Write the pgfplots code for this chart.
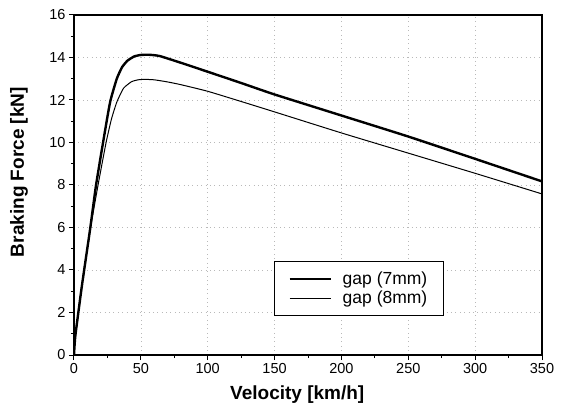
\documentclass[border=0pt]{standalone}
\usepackage{fontspec}
\setmainfont{Liberation Sans}
\usepackage{pgfplots}
\pgfplotsset{compat=1.18}

\begin{document}
\begin{tikzpicture}
\useasboundingbox (-74bp,-64bp) rectangle (489bp,355bp);
\begin{axis}[
  at={(0,0)}, anchor=south west,
  scale only axis, width=468bp, height=340bp,
  xmin=0, xmax=350, ymin=0, ymax=16,
  xtick={0,50,...,350}, ytick={0,2,...,16},
  minor x tick num=1, minor y tick num=1,
  tick align=outside, xtick pos=bottom, ytick pos=left,
  major tick length=5bp, minor tick length=3bp,
  tick style={black, line width=1bp},
  axis line style={line width=1.3bp},
  grid=major, major grid style={gray!55, loosely dotted, line width=0.6bp},
  ticklabel style={font=\fontsize{14.5bp}{16bp}\selectfont},
  /pgf/number format/assume math mode=true,
  xlabel={Velocity [km/h]}, ylabel={Braking Force [kN]},
  label style={font=\bfseries\fontsize{19bp}{22bp}\selectfont},
  xlabel style={at={(axis description cs:0.477,0)}, anchor=north, inner sep=0pt, yshift=-31bp},
  ylabel style={at={(axis description cs:0,0.538)}, anchor=south, inner sep=0pt, yshift=46bp},
  legend style={at={(rel axis cs:0.427,0.1156)}, anchor=south west,
    draw=black, line width=1bp, fill=white,
    font=\fontsize{17.5bp}{19bp}\selectfont,
    inner xsep=14bp, inner ysep=8bp,
    nodes={inner sep=2bp}, column sep=9bp, row sep=1bp, cells={anchor=west}},
  legend image code/.code={\draw[#1] (0bp,0bp) -- (41bp,0bp);},
]
\addplot[black, line width=2.4bp, smooth, tension=0.3] coordinates {
(0,0) (1,0.9) (6,3.3) (12,5.9) (16.5,8.0) (22,10.1) (27,11.9) (32,13.0)
(36,13.55) (40,13.85) (45,14.05) (50,14.12) (56,14.13) (64,14.07) (80,13.75)
(100,13.33) (125,12.8) (150,12.26) (200,11.27) (250,10.28) (300,9.23) (350,8.17)
};
\addlegendentry{gap (7mm)}
\addplot[black, line width=1bp, smooth, tension=0.3] coordinates {
(0,0) (1,0.88) (6,3.3) (12,5.85) (18,8.0) (24,10.0) (28,11.1) (32,11.9)
(37,12.55) (43,12.86) (48,12.95) (53,12.97) (60,12.95) (70,12.85) (80,12.72)
(100,12.41) (125,11.93) (150,11.44) (200,10.45) (250,9.5) (300,8.55) (350,7.58)
};
\addlegendentry{gap (8mm)}
\end{axis}
\end{tikzpicture}
\end{document}
